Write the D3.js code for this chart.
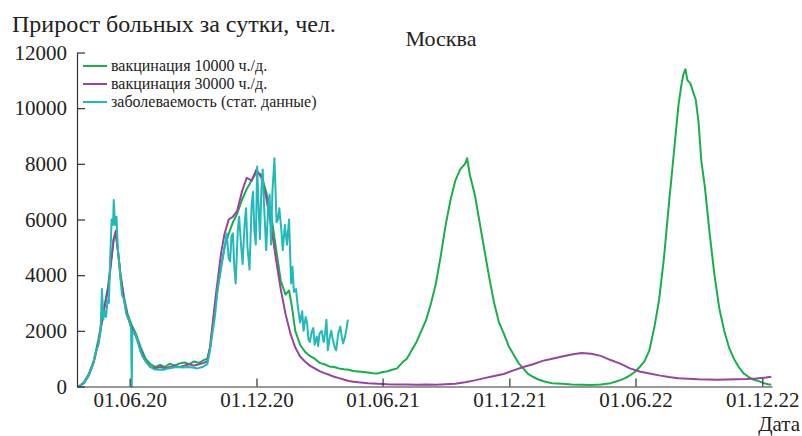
<!DOCTYPE html>
<html>
<head>
<meta charset="utf-8">
<script src="https://cdn.jsdelivr.net/npm/d3@7"></script>
<style>
  body { margin: 0; background: #fff; }
</style>
</head>
<body>
<div id="chart"></div>
<script>
// series: [date, new cases per day]
const vacc10000 = [
  ["2020-03-20", 0], ["2020-03-27", 150], ["2020-04-03", 450], ["2020-04-10", 900], ["2020-04-17", 1700],
  ["2020-04-24", 2700], ["2020-05-01", 3600], ["2020-05-05", 4500], ["2020-05-09", 5300], ["2020-05-12", 5450],
  ["2020-05-15", 4900], ["2020-05-19", 4000], ["2020-05-24", 3200], ["2020-05-29", 2600], ["2020-06-04", 2200],
  ["2020-06-10", 1900], ["2020-06-17", 1400], ["2020-06-24", 1000], ["2020-07-01", 800], ["2020-07-08", 700],
  ["2020-07-15", 780], ["2020-07-22", 700], ["2020-07-29", 820], ["2020-08-05", 750], ["2020-08-12", 830],
  ["2020-08-19", 860], ["2020-08-26", 800], ["2020-09-02", 900], ["2020-09-09", 850], ["2020-09-16", 950],
  ["2020-09-21", 1000], ["2020-09-25", 1400], ["2020-09-29", 2200], ["2020-10-03", 3000], ["2020-10-07", 3700],
  ["2020-10-11", 4300], ["2020-10-16", 5000], ["2020-10-22", 5500], ["2020-10-28", 5900], ["2020-11-03", 6200],
  ["2020-11-10", 6700], ["2020-11-17", 7100], ["2020-11-24", 7400], ["2020-12-01", 7700], ["2020-12-08", 7600],
  ["2020-12-15", 7000], ["2020-12-22", 6200], ["2020-12-29", 5000], ["2021-01-05", 3800], ["2021-01-12", 3300],
  ["2021-01-17", 3450], ["2021-01-21", 2900], ["2021-01-26", 2000], ["2021-02-02", 1500], ["2021-02-09", 1250],
  ["2021-02-16", 1100], ["2021-02-23", 1000], ["2021-03-02", 850], ["2021-03-09", 800], ["2021-03-16", 720],
  ["2021-03-23", 700], ["2021-03-30", 650], ["2021-04-06", 620], ["2021-04-13", 600], ["2021-04-20", 560],
  ["2021-04-27", 540], ["2021-05-04", 520], ["2021-05-11", 500], ["2021-05-18", 480], ["2021-05-25", 470],
  ["2021-06-01", 520], ["2021-06-08", 550], ["2021-06-15", 600], ["2021-06-22", 650], ["2021-06-29", 850],
  ["2021-07-06", 1000], ["2021-07-13", 1300], ["2021-07-20", 1600], ["2021-07-27", 2000], ["2021-08-03", 2400],
  ["2021-08-10", 3000], ["2021-08-17", 3700], ["2021-08-24", 4700], ["2021-08-31", 5800], ["2021-09-07", 6700],
  ["2021-09-14", 7400], ["2021-09-21", 7800], ["2021-09-28", 8000], ["2021-10-01", 8200], ["2021-10-05", 7600],
  ["2021-10-12", 6900], ["2021-10-19", 5900], ["2021-10-26", 4900], ["2021-11-02", 3900], ["2021-11-09", 3000],
  ["2021-11-16", 2300], ["2021-11-23", 1900], ["2021-11-30", 1450], ["2021-12-07", 1150], ["2021-12-14", 850],
  ["2021-12-21", 650], ["2021-12-28", 450], ["2022-01-04", 350], ["2022-01-11", 260], ["2022-01-18", 200],
  ["2022-01-25", 150], ["2022-02-01", 120], ["2022-02-15", 100], ["2022-03-01", 70], ["2022-03-15", 60],
  ["2022-03-29", 50], ["2022-04-12", 70], ["2022-04-26", 120], ["2022-05-03", 170], ["2022-05-10", 230],
  ["2022-05-17", 300], ["2022-05-24", 400], ["2022-05-31", 520], ["2022-06-07", 700], ["2022-06-14", 900],
  ["2022-06-21", 1300], ["2022-06-28", 2100], ["2022-07-05", 3100], ["2022-07-12", 4600], ["2022-07-19", 6500],
  ["2022-07-26", 8300], ["2022-08-02", 10100], ["2022-08-06", 10800], ["2022-08-09", 11200], ["2022-08-12", 11400],
  ["2022-08-15", 11000], ["2022-08-19", 10900], ["2022-08-23", 10600], ["2022-08-27", 10300], ["2022-08-31", 9500],
  ["2022-09-04", 8100], ["2022-09-09", 7200], ["2022-09-16", 5500], ["2022-09-23", 4000], ["2022-09-30", 2800],
  ["2022-10-07", 2000], ["2022-10-14", 1400], ["2022-10-21", 1000], ["2022-10-28", 700], ["2022-11-04", 470],
  ["2022-11-11", 350], ["2022-11-18", 250], ["2022-11-25", 200], ["2022-12-02", 130], ["2022-12-09", 80],
  ["2022-12-14", 60]
];

const vacc30000 = [
  ["2020-03-20", 0], ["2020-03-27", 120], ["2020-04-03", 400], ["2020-04-10", 850], ["2020-04-17", 1600],
  ["2020-04-24", 2600], ["2020-05-01", 3500], ["2020-05-05", 4400], ["2020-05-09", 5300], ["2020-05-12", 5600],
  ["2020-05-15", 4900], ["2020-05-19", 3900], ["2020-05-24", 3100], ["2020-05-29", 2500], ["2020-06-04", 2100],
  ["2020-06-10", 1800], ["2020-06-17", 1300], ["2020-06-24", 900], ["2020-07-01", 700], ["2020-07-08", 650],
  ["2020-07-15", 700], ["2020-07-22", 650], ["2020-07-29", 700], ["2020-08-05", 750], ["2020-08-12", 700],
  ["2020-08-19", 750], ["2020-08-26", 800], ["2020-09-02", 750], ["2020-09-09", 800], ["2020-09-16", 850],
  ["2020-09-21", 900], ["2020-09-25", 1400], ["2020-09-29", 2300], ["2020-10-03", 3200], ["2020-10-07", 4000],
  ["2020-10-11", 4800], ["2020-10-16", 5500], ["2020-10-22", 6000], ["2020-10-28", 6100], ["2020-11-03", 6300],
  ["2020-11-10", 7000], ["2020-11-17", 7500], ["2020-11-24", 7400], ["2020-12-01", 7800], ["2020-12-08", 7500],
  ["2020-12-15", 6800], ["2020-12-22", 5800], ["2020-12-29", 4600], ["2021-01-05", 3500], ["2021-01-12", 2600],
  ["2021-01-19", 1900], ["2021-01-26", 1400], ["2021-02-02", 1080], ["2021-02-09", 900], ["2021-02-16", 750],
  ["2021-02-23", 650], ["2021-03-02", 550], ["2021-03-09", 480], ["2021-03-16", 420], ["2021-03-23", 350],
  ["2021-03-30", 300], ["2021-04-06", 250], ["2021-04-13", 200], ["2021-04-20", 170], ["2021-04-27", 150],
  ["2021-05-11", 120], ["2021-05-25", 100], ["2021-06-08", 80], ["2021-06-22", 70], ["2021-07-06", 70],
  ["2021-07-20", 60], ["2021-08-03", 70], ["2021-08-17", 60], ["2021-08-31", 80], ["2021-09-14", 100],
  ["2021-09-28", 150], ["2021-10-12", 220], ["2021-10-26", 300], ["2021-11-09", 380], ["2021-11-23", 450],
  ["2021-12-07", 580], ["2021-12-21", 700], ["2022-01-04", 800], ["2022-01-18", 920], ["2022-02-01", 1000],
  ["2022-02-15", 1080], ["2022-03-01", 1150], ["2022-03-15", 1200], ["2022-03-29", 1180], ["2022-04-12", 1100],
  ["2022-04-26", 950], ["2022-05-10", 820], ["2022-05-24", 650], ["2022-06-07", 540], ["2022-06-21", 470],
  ["2022-07-05", 400], ["2022-07-19", 340], ["2022-08-02", 300], ["2022-08-16", 280], ["2022-08-30", 260],
  ["2022-09-13", 250], ["2022-09-27", 240], ["2022-10-11", 250], ["2022-10-25", 260], ["2022-11-08", 270],
  ["2022-11-22", 290], ["2022-12-06", 320], ["2022-12-14", 350]
];

const statData = [
  ["2020-03-18", 0], ["2020-03-22", 50], ["2020-03-27", 150], ["2020-04-01", 300], ["2020-04-06", 600],
  ["2020-04-10", 900], ["2020-04-14", 1300], ["2020-04-17", 1500], ["2020-04-20", 2000], ["2020-04-22", 3500],
  ["2020-04-24", 2400], ["2020-04-26", 2700], ["2020-04-28", 2500], ["2020-04-30", 3100], ["2020-05-02", 3000],
  ["2020-05-04", 4700], ["2020-05-06", 6000], ["2020-05-08", 5800], ["2020-05-09", 6700], ["2020-05-11", 5800],
  ["2020-05-13", 6100], ["2020-05-15", 4900], ["2020-05-17", 4400], ["2020-05-19", 3800], ["2020-05-21", 3300],
  ["2020-05-24", 3100], ["2020-05-27", 2600], ["2020-05-31", 2400], ["2020-06-03", 2100], ["2020-06-04", 0],
  ["2020-06-05", 2000], ["2020-06-09", 1900], ["2020-06-13", 1600], ["2020-06-16", 1300], ["2020-06-20", 1050],
  ["2020-06-26", 850], ["2020-07-01", 700], ["2020-07-06", 620], ["2020-07-13", 600], ["2020-07-20", 600],
  ["2020-07-27", 650], ["2020-08-03", 680], ["2020-08-10", 700], ["2020-08-17", 680], ["2020-08-24", 700],
  ["2020-08-31", 680], ["2020-09-07", 650], ["2020-09-14", 700], ["2020-09-21", 800], ["2020-09-25", 1300],
  ["2020-09-29", 2000], ["2020-10-02", 2500], ["2020-10-06", 3500], ["2020-10-09", 3950], ["2020-10-13", 4600],
  ["2020-10-16", 5000], ["2020-10-19", 5500], ["2020-10-22", 4600], ["2020-10-24", 4500], ["2020-10-26", 5400],
  ["2020-10-28", 5500], ["2020-10-30", 4300], ["2020-11-01", 3700], ["2020-11-04", 5600], ["2020-11-06", 6100],
  ["2020-11-09", 5000], ["2020-11-11", 4400], ["2020-11-14", 5900], ["2020-11-16", 6400], ["2020-11-18", 5000],
  ["2020-11-21", 4200], ["2020-11-24", 6500], ["2020-11-26", 7000], ["2020-11-28", 5600], ["2020-11-30", 5100],
  ["2020-12-02", 7900], ["2020-12-04", 6500], ["2020-12-06", 5300], ["2020-12-08", 7000], ["2020-12-10", 7800],
  ["2020-12-12", 6500], ["2020-12-15", 4900], ["2020-12-18", 6500], ["2020-12-20", 6900], ["2020-12-22", 5100],
  ["2020-12-24", 7000], ["2020-12-27", 8200], ["2020-12-30", 5900], ["2021-01-01", 6000], ["2021-01-03", 6400],
  ["2021-01-06", 5600], ["2021-01-08", 4900], ["2021-01-11", 5800], ["2021-01-14", 5100], ["2021-01-17", 6000],
  ["2021-01-20", 3700], ["2021-01-22", 4300], ["2021-01-24", 3400], ["2021-01-27", 3500], ["2021-01-30", 2800],
  ["2021-02-02", 2300], ["2021-02-05", 2700], ["2021-02-07", 2000], ["2021-02-10", 2500], ["2021-02-12", 2300],
  ["2021-02-14", 1700], ["2021-02-16", 1600], ["2021-02-19", 2000], ["2021-02-21", 2100], ["2021-02-23", 1500],
  ["2021-02-26", 1800], ["2021-02-28", 1450], ["2021-03-02", 1900], ["2021-03-05", 2000], ["2021-03-08", 1600],
  ["2021-03-10", 1900], ["2021-03-12", 2400], ["2021-03-14", 1300], ["2021-03-17", 1800], ["2021-03-19", 2000],
  ["2021-03-21", 1700], ["2021-03-24", 1400], ["2021-03-26", 1300], ["2021-03-29", 1900], ["2021-04-01", 2150],
  ["2021-04-03", 1800], ["2021-04-05", 1550], ["2021-04-08", 1800], ["2021-04-10", 2100], ["2021-04-12", 2400]
];

const yTicks = [0, 2000, 4000, 6000, 8000, 10000, 12000];
const xTickDates = ["2020-06-01", "2020-12-01", "2021-06-01", "2021-12-01", "2022-06-01", "2022-12-01"];
const legendLabels = ["вакцинация 10000 ч./д.", "вакцинация 30000 ч./д.", "заболеваемость (стат. данные)"];
const colors = ["#1aae4c", "#96449e", "#22b9b9"];

const parseDate = d3.timeParse("%Y-%m-%d");
const W = 802, H = 436;

const svg = d3.select("#chart")
  .append("svg")
  .attr("width", W)
  .attr("height", H);

// titles first
svg.append("text")
  .attr("x", 12)
  .attr("y", 32)
  .attr("font-family", "Liberation Serif")
  .attr("font-size", 24)
  .attr("fill", "#222")
  .text("Прирост больных за сутки, чел.");

svg.append("text")
  .attr("x", 441)
  .attr("y", 46)
  .attr("text-anchor", "middle")
  .attr("font-family", "Liberation Serif")
  .attr("font-size", 22)
  .attr("fill", "#222")
  .text("Москва");

svg.append("text")
  .attr("x", 800)
  .attr("y", 431)
  .attr("text-anchor", "end")
  .attr("font-family", "Liberation Serif")
  .attr("font-size", 21)
  .attr("fill", "#222")
  .text("Дата");

// legend
legendLabels.forEach((lab, i) => {
  svg.append("line")
    .attr("x1", 83).attr("x2", 107)
    .attr("y1", 66 + i * 18).attr("y2", 66 + i * 18)
    .attr("stroke", colors[i])
    .attr("stroke-width", 2);
  svg.append("text")
    .attr("x", 111)
    .attr("y", 71 + i * 18)
    .attr("font-family", "Liberation Serif")
    .attr("font-size", 16)
    .attr("fill", "#222")
    .text(lab);
});

const x = d3.scaleTime()
  .domain([parseDate("2020-03-17"), parseDate("2022-12-15")])
  .range([77, 772]);

const y = d3.scaleLinear()
  .domain([0, 12000])
  .range([386.5, 52.5]);

const line = d3.line()
  .x(d => x(parseDate(d[0])))
  .y(d => y(d[1]));

// curves, statistics on top
[vacc10000, vacc30000, statData].forEach((s, i) => {
  svg.append("path")
    .datum(s)
    .attr("fill", "none")
    .attr("stroke", colors[i])
    .attr("stroke-width", 2)
    .attr("stroke-linejoin", "round")
    .attr("d", line);
});

// axes with inward ticks
const yAxis = svg.append("g")
  .attr("transform", "translate(77,0)")
  .call(d3.axisLeft(y).tickValues(yTicks).tickFormat(d3.format("d"))
    .tickSizeInner(-8).tickSizeOuter(0).tickPadding(10));

const xAxis = svg.append("g")
  .attr("transform", "translate(0,386.5)")
  .call(d3.axisBottom(x).tickValues(xTickDates.map(parseDate))
    .tickFormat(d3.timeFormat("%d.%m.%y"))
    .tickSizeInner(-8).tickSizeOuter(0).tickPadding(6));

[yAxis, xAxis].forEach(g => {
  g.attr("font-family", "Liberation Serif").attr("font-size", 21);
  g.selectAll("path, line").attr("stroke", "#333").attr("stroke-width", 1.2);
  g.selectAll("text").attr("fill", "#222").attr("font-family", "Liberation Serif");
});
</script>
</body>
</html>
